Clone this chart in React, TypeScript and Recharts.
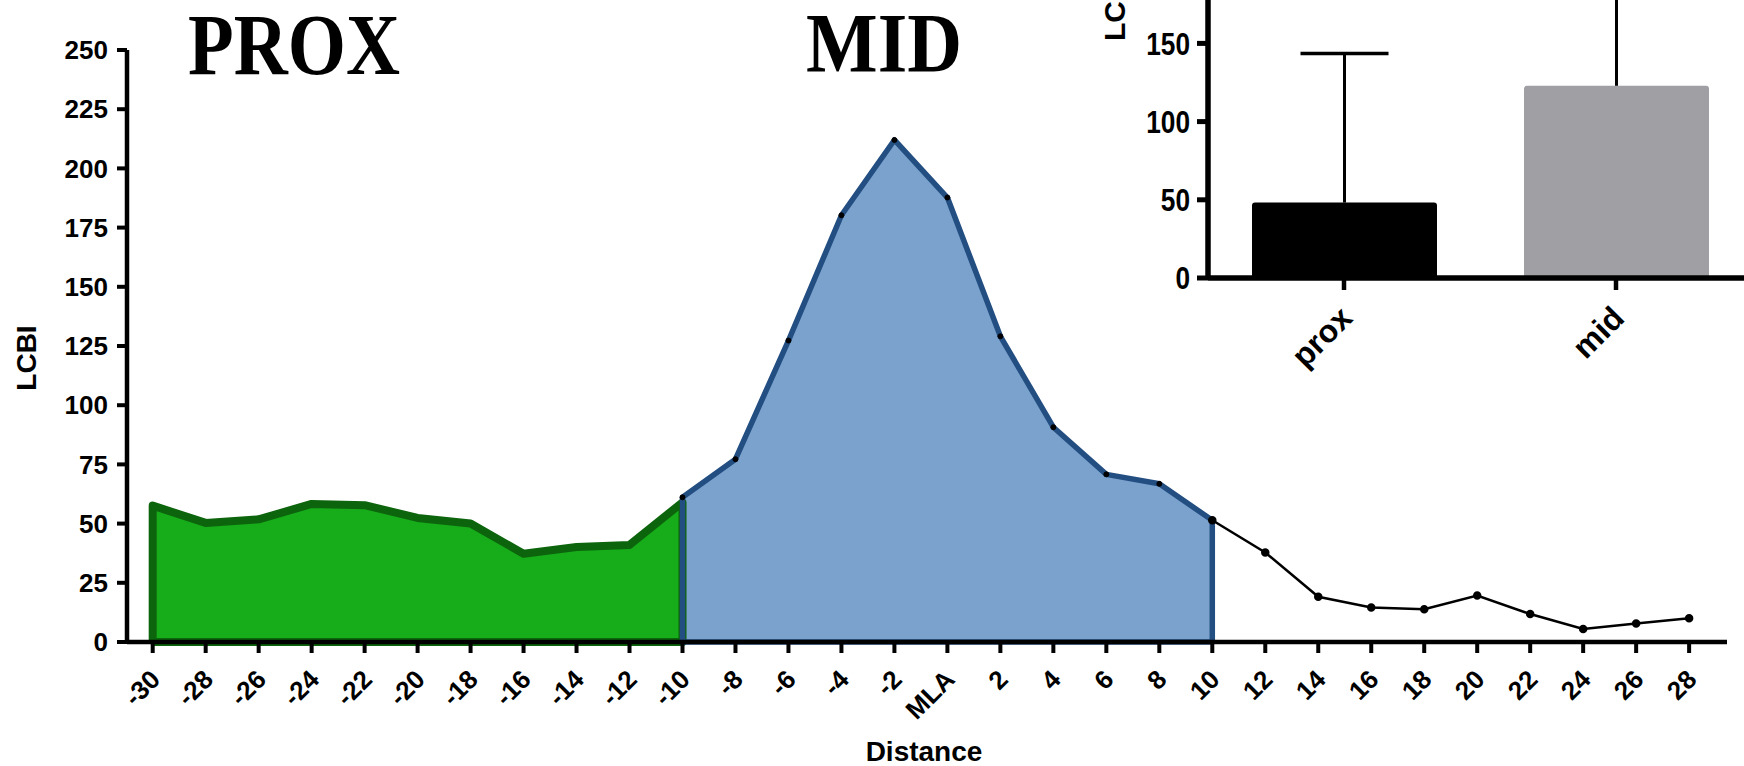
import { ComposedChart, Area, Line, XAxis, YAxis, BarChart, Bar, Cell } from 'recharts';

const proxDistance = [-30, -28, -26, -24, -22, -20, -18, -16, -14, -12, -10];
const proxLcbi = [57.6, 50.3, 51.8, 58.3, 57.8, 52.4, 50.0, 37.3, 40.1, 41.0, 59.0];

const midDistance = [-10, -8, -6, -4, -2, 0, 2, 4, 6, 8, 10];
const midLcbi = [61.1, 77.2, 127.3, 180.2, 212.0, 187.7, 129.1, 90.7, 70.8, 66.8, 51.4];

const distalDistance = [10, 12, 14, 16, 18, 20, 22, 24, 26, 28];
const distalLcbi = [51.4, 37.8, 19.1, 14.6, 13.8, 19.6, 11.8, 5.5, 7.8, 10.0];

const distanceTicks = [-30, -28, -26, -24, -22, -20, -18, -16, -14, -12, -10, -8, -6, -4, -2, 0, 2, 4, 6, 8, 10, 12, 14, 16, 18, 20, 22, 24, 26, 28];
const lcbiTicks = [0, 25, 50, 75, 100, 125, 150, 175, 200, 225, 250];

// inset bar chart
const groupNames = ['prox', 'mid'];
const groupMeans = [48.2, 122.9];
const groupErrors = [95.4, 92.0];
const groupColors = ['#000000', '#a09fa4'];
const groupTicks = [0, 50, 100, 150, 200, 250];

const SANS = 'Liberation Sans, Arial, sans-serif';
const SERIF = 'Liberation Serif, Times New Roman, serif';

const pick = (xs: number[], ys: number[], d: number) => {
  const i = xs.indexOf(d);
  return i >= 0 ? ys[i] : null;
};

const rows = distanceTicks.map((d) => ({
  d,
  prox: pick(proxDistance, proxLcbi, d),
  mid: pick(midDistance, midLcbi, d),
  distal: pick(distalDistance, distalLcbi, d),
}));

// closed outline (top line, right edge, bottom, left edge)
const outline = (xs: number[], ys: number[]) => [
  { d: xs[0], v: 0 },
  ...xs.map((d, i) => ({ d, v: ys[i] })),
  { d: xs[xs.length - 1], v: 0 },
  { d: xs[0], v: 0 },
];

const groups = groupNames.map((name, i) => ({ name, mean: groupMeans[i], err: groupErrors[i] }));

function DistanceTick({ x, y, payload }: any) {
  const label = payload.value === 0 ? 'MLA' : String(payload.value);
  const ax = x + 9;
  const ay = y + 28;
  return (
    <text x={ax} y={ay} transform={`rotate(-45 ${ax} ${ay})`} textAnchor="end" fontSize={26} fontWeight={700} fontFamily={SANS} fill="#000">
      {label}
    </text>
  );
}

function GroupTick({ x, y, payload }: any) {
  const ax = x + 10;
  const ay = y + 30;
  return (
    <text x={ax} y={ay} transform={`rotate(-45 ${ax} ${ay})`} textAnchor="end" fontSize={32} fontWeight={700} fontFamily={SANS} fill="#000">
      {payload.value}
    </text>
  );
}

// narrow-looking tick numbers of the inset
function GroupValueTick({ x, y, payload }: any) {
  return (
    <g transform={`translate(${x},${y}) scale(0.82,1)`}>
      <text x={0} y={0} dy="0.355em" textAnchor="end" fontSize={32} fontWeight={700} fontFamily={SANS} fill="#000">
        {payload.value}
      </text>
    </g>
  );
}

// bar plus upper error whisker
function BarWithError(props: any) {
  const { x, y, width, height, fill, payload } = props;
  const perUnit = height / payload.mean;
  const cx = x + width / 2;
  const top = y - payload.err * perUnit;
  return (
    <g>
      <rect x={x} y={y} width={width} height={height} rx={3} ry={3} fill={fill} />
      <line x1={cx} y1={y} x2={cx} y2={top} stroke="#000" strokeWidth={3} />
      <line x1={cx - 44} y1={top} x2={cx + 44} y2={top} stroke="#000" strokeWidth={3.5} />
    </g>
  );
}

export default function App() {
  return (
    <div style={{ position: 'absolute', left: 0, top: 0, width: 1744, height: 766, overflow: 'hidden', background: '#fff' }}>
      <ComposedChart width={1744} height={766} data={rows} margin={{ top: 50, right: 17, left: 67, bottom: 44 }}>
        <XAxis
          dataKey="d"
          type="number"
          domain={[-30.97, 29.43]}
          allowDataOverflow
          ticks={distanceTicks}
          interval={0}
          height={80}
          tickSize={11}
          tickMargin={0}
          stroke="#000"
          strokeWidth={4.5}
          axisLine={{ stroke: '#000', strokeWidth: 4.5 }}
          tickLine={{ stroke: '#000', strokeWidth: 4 }}
          tick={<DistanceTick />}
        />
        <YAxis
          domain={[0, 250]}
          ticks={lcbiTicks}
          interval={0}
          width={60}
          tickSize={10}
          tickMargin={9}
          stroke="#000"
          strokeWidth={4.5}
          axisLine={{ stroke: '#000', strokeWidth: 4.5 }}
          tickLine={{ stroke: '#000', strokeWidth: 4 }}
          tick={{ fontSize: 26, fontWeight: 700, fill: '#000', fontFamily: SANS, strokeWidth: 0 }}
        />
        <Area type="linear" dataKey="prox" fill="#16ac1a" fillOpacity={1} stroke="none" isAnimationActive={false} />
        <Line type="linear" data={outline(proxDistance, proxLcbi)} dataKey="v" stroke="#0c640c" strokeWidth={8} strokeLinejoin="round" dot={false} activeDot={false} isAnimationActive={false} />
        <Area type="linear" dataKey="mid" fill="#7ba2cc" fillOpacity={1} stroke="none" isAnimationActive={false} />
        <Line type="linear" dataKey="mid" stroke="none" dot={{ r: 2.5, fill: '#000', stroke: '#000' }} activeDot={false} isAnimationActive={false} />
        <Line type="linear" data={outline(midDistance, midLcbi)} dataKey="v" stroke="#234e82" strokeWidth={5.5} strokeLinejoin="round" dot={false} activeDot={false} isAnimationActive={false} />
        <Line type="linear" dataKey="distal" stroke="#000" strokeWidth={2.5} dot={{ r: 3, fill: '#000', stroke: '#000' }} activeDot={false} isAnimationActive={false} />
      </ComposedChart>

      <div style={{ position: 'absolute', left: 1080, top: -200, width: 700, height: 600 }}>
        <BarChart width={700} height={600} data={groups} margin={{ top: 87, right: 28, left: 68, bottom: 32 }}>
          <XAxis
            dataKey="name"
            height={90}
            tickSize={12}
            tickMargin={0}
            stroke="#000"
            strokeWidth={5.5}
            axisLine={{ stroke: '#000', strokeWidth: 5.5 }}
            tickLine={{ stroke: '#000', strokeWidth: 4.5 }}
            tick={<GroupTick />}
          />
          <YAxis
            domain={[0, 250]}
            ticks={groupTicks}
            interval={0}
            width={60}
            tickSize={11}
            tickMargin={7}
            stroke="#000"
            strokeWidth={5.5}
            axisLine={{ stroke: '#000', strokeWidth: 5.5 }}
            tickLine={{ stroke: '#000', strokeWidth: 5 }}
            tick={<GroupValueTick />}
          />
          <Bar dataKey="mean" barSize={185} shape={<BarWithError />} isAnimationActive={false}>
            {groups.map((g, i) => (
              <Cell key={g.name} fill={groupColors[i]} />
            ))}
          </Bar>
        </BarChart>
      </div>

      <svg width={1744} height={766} style={{ position: 'absolute', left: 0, top: 0, pointerEvents: 'none' }}>
        <text x={188} y={74} textLength={212} lengthAdjust="spacingAndGlyphs" fontSize={86} fontWeight={700} fontFamily={SERIF} fill="#000">
          PROX
        </text>
        <text x={806} y={72} textLength={156} lengthAdjust="spacingAndGlyphs" fontSize={84} fontWeight={700} fontFamily={SERIF} fill="#000">
          MID
        </text>
        <text x={924} y={761} textAnchor="middle" fontSize={28} fontWeight={700} fontFamily={SANS} fill="#000">
          Distance
        </text>
        <text x={36} y={358} transform="rotate(-90 36 358)" textAnchor="middle" fontSize={28} fontWeight={700} fontFamily={SANS} fill="#000">
          LCBI
        </text>
        <text x={1125} y={41} transform="rotate(-90 1125 41)" textAnchor="start" fontSize={30} fontWeight={700} fontFamily={SANS} fill="#000">
          LCBI
        </text>
      </svg>
    </div>
  );
}
